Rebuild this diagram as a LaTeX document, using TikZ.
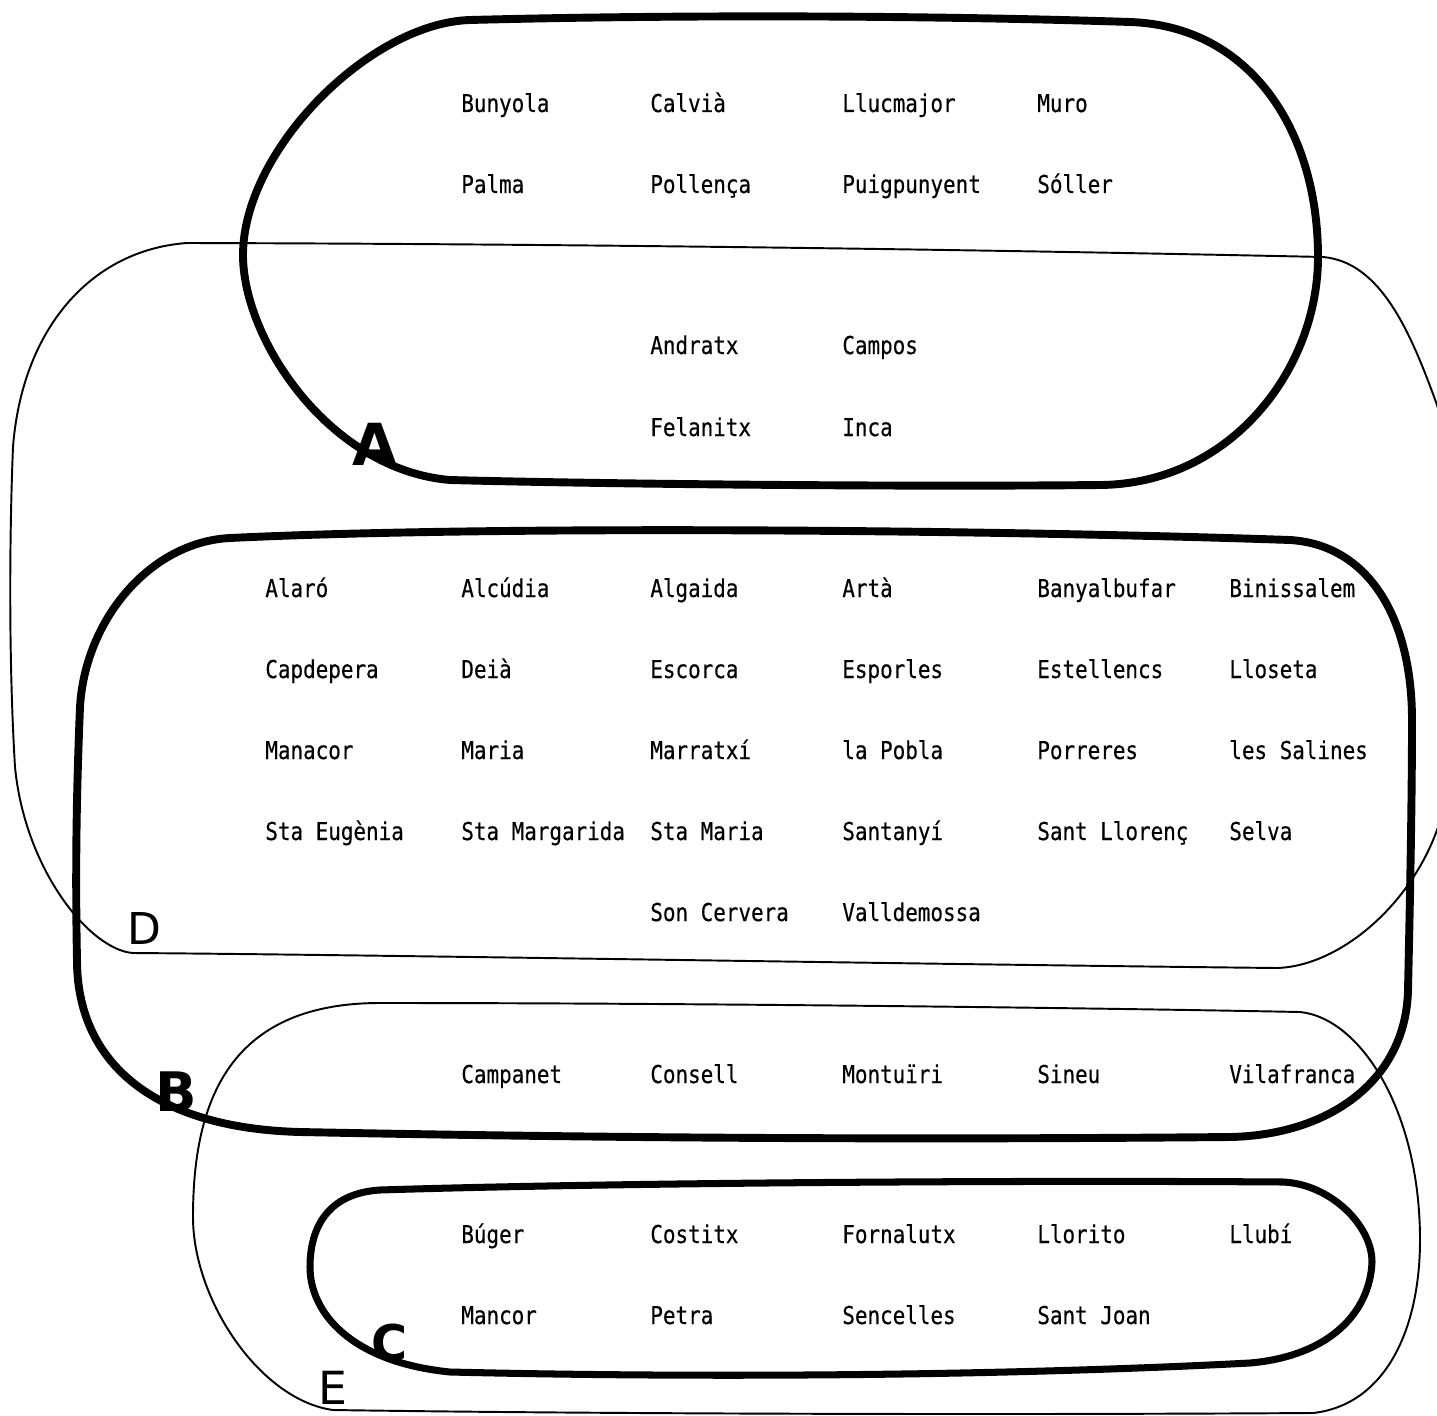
\documentclass[tikz,border=0pt]{standalone}
\usepackage{fontspec}
\usepackage{tikz}
\newfontfamily\townfont[FakeStretch=0.85, FakeBold=0.4]{DejaVu Sans Mono}
\newfontfamily\labelfont{DejaVu Sans}
\begin{document}
\begin{tikzpicture}[x=0.02cm, y=-0.02cm,
    town/.style={anchor=base west, inner sep=0pt, font=\townfont\fontsize{14}{16}\selectfont},
    heavyloop/.style={line width=4.5pt, line join=round, line cap=round},
    lightloop/.style={line width=1.1pt, line join=round, line cap=round},
    setlabel/.style={inner sep=0pt, font=\labelfont\bfseries}]

    \useasboundingbox (0,0) rectangle (1437,1416);
    \clip (0,0) rectangle (1437,1416);

    % Loop A
    \draw[heavyloop] (470,20) .. controls (700,14) and (950,16) .. (1130,22)
        .. controls (1250,26) and (1318,130) .. (1318,257)
        .. controls (1318,370) and (1230,484) .. (1100,485)
        .. controls (900,487) and (600,484) .. (450,480)
        .. controls (330,470) and (243,340) .. (243,255)
        .. controls (243,150) and (370,23) .. cycle;

    % Loop D
    \draw[lightloop] (187,243) .. controls (600,244) and (1000,250) .. (1323,257)
        .. controls (1380,262) and (1410,330) .. (1437,405)
        .. controls (1470,500) and (1470,750) .. (1437,830)
        .. controls (1410,905) and (1340,966) .. (1277,968)
        .. controls (900,964) and (400,955) .. (133,953)
        .. controls (90,950) and (25,870) .. (15,767)
        .. controls (8,650) and (10,520) .. (13,447)
        .. controls (22,330) and (90,250) .. cycle;

    % Loop B
    \draw[heavyloop] (230,538) .. controls (500,525) and (1000,530) .. (1290,540)
        .. controls (1370,545) and (1412,620) .. (1412,720)
        .. controls (1412,800) and (1410,900) .. (1408,990)
        .. controls (1406,1080) and (1330,1135) .. (1230,1137)
        .. controls (900,1140) and (600,1138) .. (300,1132)
        .. controls (150,1128) and (77,1060) .. (77,960)
        .. controls (75,860) and (77,780) .. (80,707)
        .. controls (85,620) and (150,542) .. cycle;

    % Loop E
    \draw[lightloop] (380,1003) .. controls (700,1003) and (1100,1008) .. (1300,1012)
        .. controls (1360,1018) and (1420,1110) .. (1420,1240)
        .. controls (1420,1330) and (1385,1405) .. (1313,1413)
        .. controls (1000,1415) and (600,1414) .. (333,1410)
        .. controls (260,1400) and (193,1300) .. (193,1217)
        .. controls (193,1100) and (230,1003) .. cycle;

    % Loop C
    \draw[heavyloop, line width=4pt] (380,1190) .. controls (600,1183) and (1000,1180) .. (1283,1182)
        .. controls (1330,1184) and (1372,1225) .. (1372,1262)
        .. controls (1370,1312) and (1330,1356) .. (1250,1363)
        .. controls (1000,1376) and (700,1378) .. (450,1372)
        .. controls (350,1362) and (310,1312) .. (310,1267)
        .. controls (310,1225) and (330,1193) .. cycle;

    % Set labels
    \node[setlabel, font=\labelfont\bfseries\fontsize{33}{33}\selectfont] (lblA) at (375,444) {A};
    \node[setlabel, font=\labelfont\fontsize{25}{25}\selectfont] (lblD) at (144,928) {D};
    \node[setlabel, font=\labelfont\bfseries\fontsize{31}{31}\selectfont] (lblB) at (176,1092) {B};
    \node[setlabel, font=\labelfont\bfseries\fontsize{28}{28}\selectfont] (lblC) at (390,1343) {C};
    \node[setlabel, font=\labelfont\fontsize{26}{26}\selectfont] (lblE) at (333,1388) {E};

    % Only in A
    \node[town] (bunyola) at (461,112) {Bunyola};
    \node[town] (calvia) at (650,112) {Calvià};
    \node[town] (llucmajor) at (842,112) {Llucmajor};
    \node[town] (muro) at (1037,112) {Muro};
    \node[town] (palma) at (461,193) {Palma};
    \node[town] (pollenca) at (650,193) {Pollença};
    \node[town] (puigpunyent) at (842,193) {Puigpunyent};
    \node[town] (soller) at (1037,193) {Sóller};

    % A and D
    \node[town] (andratx) at (650,354) {Andratx};
    \node[town] (campos) at (842,354) {Campos};
    \node[town] (felanitx) at (650,436) {Felanitx};
    \node[town] (inca) at (842,436) {Inca};

    % B and D
    \node[town] (alaro) at (265,597) {Alaró};
    \node[town] (alcudia) at (461,597) {Alcúdia};
    \node[town] (algaida) at (650,597) {Algaida};
    \node[town] (arta) at (842,597) {Artà};
    \node[town] (banyalbufar) at (1037,597) {Banyalbufar};
    \node[town] (binissalem) at (1229,597) {Binissalem};
    \node[town] (capdepera) at (265,678) {Capdepera};
    \node[town] (deia) at (461,678) {Deià};
    \node[town] (escorca) at (650,678) {Escorca};
    \node[town] (esporles) at (842,678) {Esporles};
    \node[town] (estellencs) at (1037,678) {Estellencs};
    \node[town] (lloseta) at (1229,678) {Lloseta};
    \node[town] (manacor) at (265,759) {Manacor};
    \node[town] (maria) at (461,759) {Maria};
    \node[town] (marratxi) at (650,759) {Marratxí};
    \node[town] (lapobla) at (842,759) {la Pobla};
    \node[town] (porreres) at (1037,759) {Porreres};
    \node[town] (salines) at (1229,759) {les Salines};
    \node[town] (steugenia) at (265,840) {Sta Eugènia};
    \node[town] (stmargarida) at (461,840) {Sta Margarida};
    \node[town] (stmaria) at (650,840) {Sta Maria};
    \node[town] (santanyi) at (842,840) {Santanyí};
    \node[town] (santllorenc) at (1037,840) {Sant Llorenç};
    \node[town] (selva) at (1229,840) {Selva};
    \node[town] (soncervera) at (650,921) {Son Cervera};
    \node[town] (valldemossa) at (842,921) {Valldemossa};

    % B and E
    \node[town] (campanet) at (461,1083) {Campanet};
    \node[town] (consell) at (650,1083) {Consell};
    \node[town] (montuiri) at (842,1083) {Montuïri};
    \node[town] (sineu) at (1037,1083) {Sineu};
    \node[town] (vilafranca) at (1229,1083) {Vilafranca};

    % C inside E
    \node[town] (buger) at (461,1243) {Búger};
    \node[town] (costitx) at (650,1243) {Costitx};
    \node[town] (fornalutx) at (842,1243) {Fornalutx};
    \node[town] (llorito) at (1037,1243) {Llorito};
    \node[town] (llubi) at (1229,1243) {Llubí};
    \node[town] (mancor) at (461,1324) {Mancor};
    \node[town] (petra) at (650,1324) {Petra};
    \node[town] (sencelles) at (842,1324) {Sencelles};
    \node[town] (santjoan) at (1037,1324) {Sant Joan};
\end{tikzpicture}
\end{document}
